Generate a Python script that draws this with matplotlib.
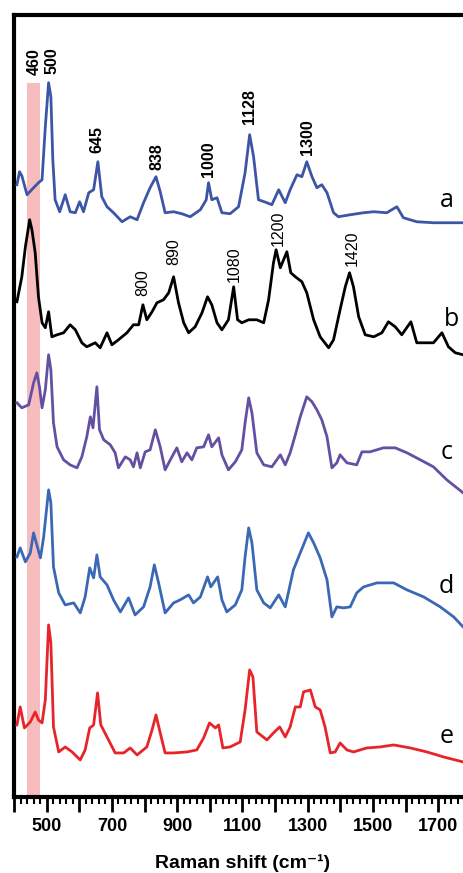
import matplotlib
matplotlib.use('Agg')
import matplotlib.pyplot as plt
from matplotlib.ticker import MultipleLocator, FuncFormatter

# Raman shift (cm-1) and stacked intensity (a.u., offsets included)
shift_a = [409, 417, 424, 440, 460, 475, 486, 496, 506, 513, 519, 526, 540, 557, 572, 588, 601, 613, 629, 644,
           657, 669, 685, 705, 731, 756, 777, 797, 817, 835, 848, 863, 889, 914, 940, 971, 989, 996, 1006, 1022,
           1037, 1062, 1088, 1108, 1122, 1134, 1149, 1175, 1190, 1211, 1231, 1246, 1267, 1282, 1297, 1313, 1328,
           1343, 1359, 1379, 1394, 1430, 1471, 1502, 1542, 1573, 1593, 1634, 1685, 1776]
int_a = [612, 625, 621, 602, 609, 614, 617, 670, 714, 700, 637, 597, 585, 602, 585, 584, 595, 585, 604, 607,
         635, 600, 590, 584, 575, 580, 577, 594, 609, 620, 605, 584, 585, 583, 580, 587, 597, 614, 597, 599,
         584, 583, 590, 624, 662, 640, 597, 594, 592, 607, 594, 607, 622, 620, 635, 620, 609,
         612, 604, 584, 580, 582, 584, 585, 584, 590, 579, 575, 574, 574]

shift_b = [409, 424, 435, 448, 455, 465, 475, 486, 496, 506, 516, 532, 552, 572, 588, 608, 623, 649, 664, 685,
           700, 720, 746, 766, 782, 795, 807, 823, 838, 858, 874, 889, 904, 920, 935, 955, 976, 993, 1006, 1022,
           1037, 1057, 1073, 1085, 1098, 1119, 1144, 1165, 1180, 1195, 1203, 1216, 1226, 1236, 1248, 1262, 1282,
           1297, 1318, 1338, 1364, 1379, 1399, 1415, 1428, 1440, 1456, 1476, 1502, 1527, 1547, 1568, 1588, 1616,
           1634, 1660, 1685, 1711, 1731, 1752, 1776]
int_b = [495, 520, 550, 577, 567, 544, 500, 474, 469, 485, 460, 462, 464, 472, 467, 454, 450, 454, 449, 464,
         452, 457, 464, 472, 472, 492, 477, 485, 494, 497, 504, 520, 494, 474, 464, 470, 484, 500, 492, 474,
         467, 477, 510, 477, 474, 477, 477, 474, 497, 534, 547, 529, 537, 545, 524, 520, 515,
         504, 477, 460, 449, 457, 487, 510, 524, 510, 480, 462, 460, 464, 475, 470, 462, 475,
         454, 454, 454, 464, 450, 444, 442]

shift_c = [409, 424, 445, 460, 470, 478, 486, 496, 506, 513, 521, 532, 552, 572, 593, 608, 623, 634, 642, 654,
           662, 675, 695, 710, 720, 741, 756, 766, 777, 787, 802, 817, 833, 848, 863, 879, 899, 914, 930, 945,
           960, 981, 996, 1006, 1027, 1037, 1057, 1078, 1098, 1108, 1119, 1129, 1144, 1165, 1190, 1216, 1231,
           1246, 1262, 1277, 1297, 1313, 1328, 1343, 1359, 1374, 1389, 1399, 1420, 1450, 1466, 1491, 1532, 1568,
           1604, 1645, 1685, 1726, 1776]
int_c = [394, 389, 392, 414, 424, 410, 389, 407, 442, 427, 374, 350, 337, 332, 329, 340, 360, 380, 369, 410,
         367, 357, 352, 344, 329, 340, 337, 330, 344, 329, 345, 347, 367, 350, 327, 337, 349, 335, 344, 337,
         349, 350, 362, 350, 359, 342, 327, 335, 347, 374, 399, 384, 344, 332, 330, 342, 332,
         344, 362, 380, 400, 395, 387, 377, 360, 329, 334, 342, 334, 332, 345, 345, 349, 349,
         344, 337, 330, 317, 304]

shift_d = [409, 419, 435, 450, 460, 470, 481, 491, 506, 513, 521, 537, 557, 583, 603, 618, 632, 644, 654, 664,
           685, 705, 726, 751, 771, 797, 817, 830, 843, 863, 889, 909, 935, 950, 971, 993, 1003, 1024, 1037, 1052,
           1078, 1098, 1108, 1119, 1129, 1144, 1165, 1185, 1211, 1231, 1256, 1277, 1302, 1318, 1338, 1359, 1374,
           1389, 1410, 1430, 1450, 1471, 1512, 1563, 1604, 1655, 1706, 1747, 1776]
int_d = [240, 249, 235, 244, 264, 252, 239, 260, 307, 294, 230, 204, 192, 194, 184, 200, 229, 219, 242, 220,
         212, 197, 185, 199, 182, 190, 210, 232, 214, 184, 194, 197, 202, 194, 200, 220, 210, 220, 197, 185,
         192, 207, 240, 269, 254, 207, 194, 189, 202, 190, 227, 244, 264, 254, 239, 217, 180,
         190, 189, 190, 204, 210, 214, 214, 207, 200, 190, 180, 170]

shift_e = [409, 419, 432, 450, 465, 475, 486, 496, 506, 513, 521, 537, 557, 578, 603, 618, 632, 644, 656, 666,
           685, 710, 736, 756, 777, 807, 823, 835, 848, 863, 889, 930, 960, 981, 999, 1017, 1027, 1040, 1062, 1093,
           1108, 1122, 1132, 1144, 1175, 1195, 1214, 1231, 1246, 1262, 1277, 1287, 1308, 1323, 1338, 1353, 1369,
           1384, 1399, 1420, 1440, 1481, 1522, 1563, 1614, 1665, 1716, 1776]
int_e = [72, 90, 69, 75, 85, 77, 74, 97, 172, 154, 70, 45, 50, 45, 37, 47, 69, 72, 104, 72,
         60, 44, 44, 49, 42, 50, 67, 82, 64, 44, 44, 45, 47, 59, 74, 69, 72, 49, 50, 55,
         87, 127, 120, 65, 57, 64, 70, 60, 70, 90, 90, 105, 107, 90, 87, 70, 44,
         45, 54, 47, 45, 49, 50, 52, 49, 45, 40, 35]

curve_names = ['a', 'b', 'c', 'd', 'e']
curve_colors = ['#3d55a6', '#000000', '#6450a3', '#3b68b4', '#e8242b']

# peak labels: text, position (cm-1), base height
peaks_a = ['460', '500', '645', '838', '1000', '1128', '1300']
peaks_a_x = [461, 517, 655, 837, 997, 1123, 1298]
peaks_a_y = [722, 723, 644, 627, 620, 673, 642]
peaks_b = ['800', '890', '1080', '1200', '1420']
peaks_b_x = [796, 890, 1074, 1211, 1436]
peaks_b_y = [501, 532, 515, 551, 531]
name_x = [1727, 1740, 1725, 1725, 1725]
name_y = [596, 477, 344, 210, 60]

plt.rcParams['font.family'] = ['Liberation Sans', 'DejaVu Sans']

fig = plt.figure(figsize=(4.63, 8.73), dpi=100)
ax = fig.add_axes([0.0302, 0.0871, 0.987, 0.8961])

ax.fill_between([440, 480], 0, 714, color='#f7bcbd', lw=0, zorder=1)

spectra = [(shift_a, int_a), (shift_b, int_b), (shift_c, int_c), (shift_d, int_d), (shift_e, int_e)]
for (sx, sy), col in zip(spectra, curve_colors):
    ax.plot(sx, sy, color=col, lw=2.0, zorder=3, solid_joinstyle='round')

for t, x, y in zip(peaks_a, peaks_a_x, peaks_a_y):
    ax.text(x, y, t, rotation=90, ha='center', va='bottom', fontsize=11.5, fontweight='bold')
for t, x, y in zip(peaks_b, peaks_b_x, peaks_b_y):
    ax.text(x, y, t, rotation=90, ha='center', va='bottom', fontsize=11.5)

for n, x, y in zip(curve_names, name_x, name_y):
    ax.text(x, y, n, ha='center', va='center', fontsize=18, family='Open Sans')

ax.set_xlim(400, 1800)
ax.set_ylim(0, 782)
ax.set_yticks([])
ax.xaxis.set_major_locator(MultipleLocator(100))
ax.xaxis.set_minor_locator(MultipleLocator(20))
ax.xaxis.set_major_formatter(FuncFormatter(lambda v, p: '%d' % v if int(round(v)) % 200 == 100 else ''))
ax.tick_params(axis='x', which='major', length=11, width=2, direction='out', pad=4,
               labelsize=13)
ax.tick_params(axis='x', which='minor', length=5, width=1.5, direction='out')
for lab in ax.get_xticklabels():
    lab.set_fontweight('bold')
for s in ax.spines.values():
    s.set_linewidth(3)

ax.set_xlabel('Raman shift (cm⁻¹)', fontsize=14, fontweight='bold', labelpad=14)

fig.savefig('out.png', dpi=100)
